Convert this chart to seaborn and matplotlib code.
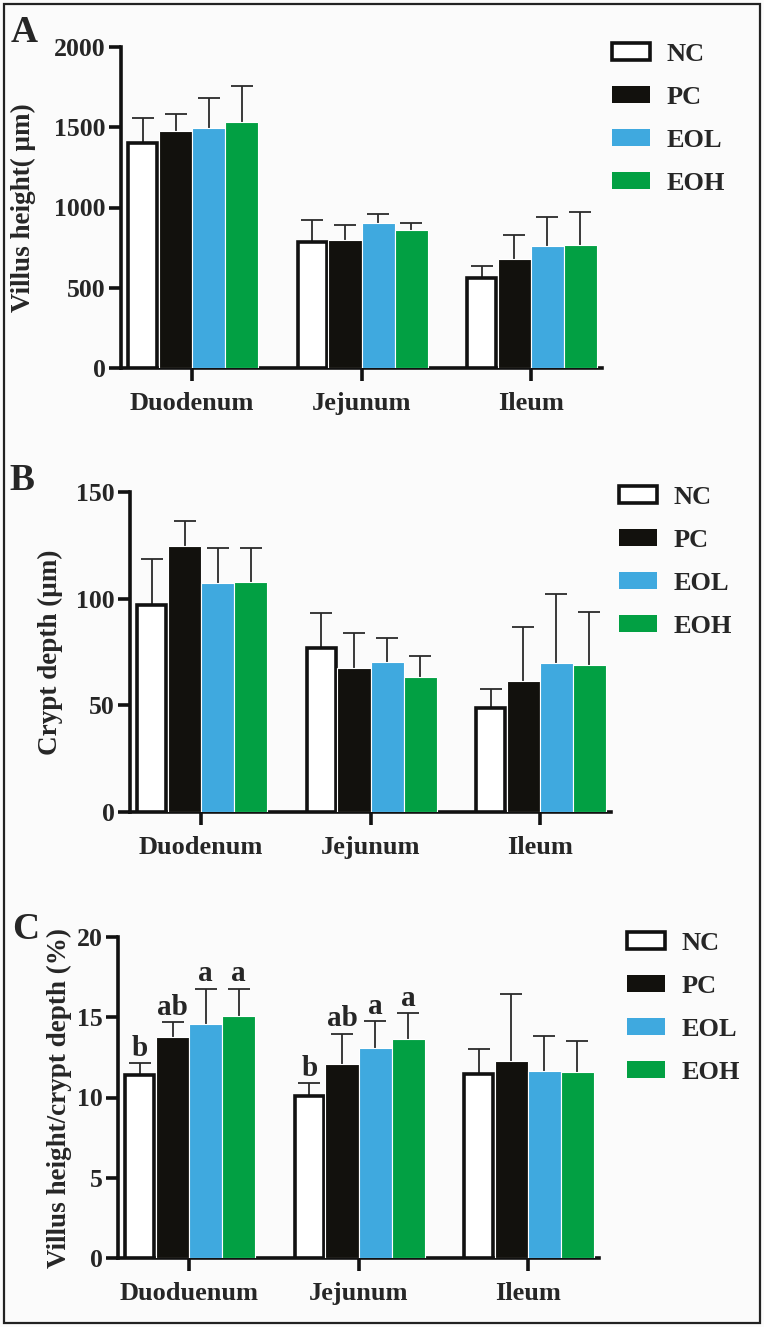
import matplotlib
matplotlib.use("Agg")
import matplotlib.pyplot as plt
from matplotlib.patches import Patch, Rectangle
import seaborn as sns
import pandas as pd
import numpy as np

# ---------------- data ----------------
groups = ["NC", "PC", "EOL", "EOH"]
segments_ab = ["Duodenum", "Jejunum", "Ileum"]
segments_c = ["Duoduenum", "Jejunum", "Ileum"]

# Panel A: villus height (um)  [Duodenum, Jejunum, Ileum]
vh_nc = [1400, 783, 559]
vh_pc = [1475, 796, 681]
vh_eol = [1497, 904, 760]
vh_eoh = [1530, 857, 766]
vh_err_nc = [160, 139, 77]
vh_err_pc = [110, 94, 146]
vh_err_eol = [185, 53, 183]
vh_err_eoh = [225, 45, 206]

# Panel B: crypt depth (um)
cd_nc = [97.2, 76.7, 48.8]
cd_pc = [124.5, 67.3, 61.4]
cd_eol = [107.2, 70.3, 69.8]
cd_eoh = [108.0, 63.3, 68.7]
cd_err_nc = [21.4, 16.4, 9.0]
cd_err_pc = [11.9, 16.4, 25.1]
cd_err_eol = [16.6, 11.1, 32.4]
cd_err_eoh = [15.6, 10.0, 25.2]

# Panel C: villus height / crypt depth
vc_nc = [11.38, 10.12, 11.49]
vc_pc = [13.77, 12.07, 12.26]
vc_eol = [14.56, 13.08, 11.65]
vc_eoh = [15.10, 13.67, 11.61]
vc_err_nc = [0.75, 0.78, 1.56]
vc_err_pc = [0.93, 1.91, 4.17]
vc_err_eol = [2.22, 1.67, 2.18]
vc_err_eoh = [1.68, 1.60, 1.91]
vc_letters_nc = ["b", "b", ""]
vc_letters_pc = ["ab", "ab", ""]
vc_letters_eol = ["a", "a", ""]
vc_letters_eoh = ["a", "a", ""]

colors = {"NC": "#ffffff", "PC": "#12110d", "EOL": "#3fa9df", "EOH": "#02a043"}
FONT = "Liberation Serif"

sns.set_theme(style="ticks")
plt.rcParams["font.family"] = [FONT, "DejaVu Serif"]
plt.rcParams["font.weight"] = "bold"
plt.rcParams["mathtext.default"] = "regular"

W, H = 764, 1327
fig = plt.figure(figsize=(W / 100, H / 100), dpi=100)
fig.patch.set_facecolor("#fbfbfb")
fig.patches.append(Rectangle((4 / W, 4 / H), 756 / W, 1319 / H, transform=fig.transFigure,
                             fill=False, edgecolor="#222222", linewidth=1.6, zorder=10))


def make_df(segs, vals, errs):
    rows = []
    for g, v, e in zip(groups, vals, errs):
        for s, vv, ee in zip(segs, v, e):
            rows.append({"segment": s, "group": g, "value": vv, "err": ee})
    return pd.DataFrame(rows)


def panel(rect, segs, vals, errs, ymax, yticks, ylabel, letter, letter_xy, ylab_x,
          legend_xy, letters=None):
    ax = fig.add_axes(rect)
    ax.set_facecolor("none")
    df = make_df(segs, vals, errs)
    sns.barplot(data=df, x="segment", y="value", hue="group", order=segs, hue_order=groups,
                palette=colors, width=0.78, saturation=1, errorbar=None, ax=ax,
                legend=False, linewidth=0)
    conts = list(ax.containers)
    for gi, cont in enumerate(conts):
        g = groups[gi]
        for si, bar in enumerate(cont):
            bar.set_zorder(3)
            bar.set_edgecolor("white")
            bar.set_linewidth(0.8)
            if g == "NC":
                bar.set_edgecolor("#111111")
                bar.set_linewidth(2.6)
                x0 = bar.get_x(); w = bar.get_width()
                bar.set_x(x0 + w * 0.07)
                bar.set_width(w * 0.88)
            cx = bar.get_x() + bar.get_width() / 2
            h = bar.get_height()
            e = errs[gi][si]
            _, caps, _ = ax.errorbar([cx], [h], yerr=[[0], [e]], fmt="none", ecolor="#2a2a2a",
                                     elinewidth=1.3, capsize=8, capthick=1.3, zorder=2)
            for c in caps:
                if abs(c.get_ydata()[0] - h) < 1e-9:
                    c.set_visible(False)
            if letters is not None and letters[gi][si]:
                ax.annotate(letters[gi][si], (cx, h + e), xytext=(0, 1),
                            textcoords="offset points", ha="center", va="bottom",
                            fontsize=21, fontweight="bold", family=FONT)
    ax.set_ylim(0, ymax)
    ax.set_xlim(-0.42, 2.42)
    ax.set_yticks(yticks)
    ax.set_yticklabels([str(t) for t in yticks], fontsize=18.5, fontweight="bold")
    ax.set_xticks(range(len(segs)))
    ax.set_xticklabels(segs, fontsize=19, fontweight="bold")
    ax.set_xlabel("")
    ax.set_ylabel(ylabel, fontsize=19.5, fontweight="bold")
    ax.yaxis.set_label_coords(ylab_x, 0.5)
    sns.despine(ax=ax)
    for sp in ["left", "bottom"]:
        ax.spines[sp].set_linewidth(2.6)
        ax.spines[sp].set_color("#111111")
    ax.tick_params(axis="both", width=2.6, length=9, color="#111111", pad=2)
    ax.tick_params(axis="x", pad=8)
    fig.text(letter_xy[0] / W, 1 - letter_xy[1] / H, letter, fontsize=27, fontweight="bold",
             ha="left", va="baseline", family=FONT)
    handles = [Patch(facecolor=colors[g], edgecolor=("#111111" if g == "NC" else colors[g]),
                     linewidth=(2.6 if g == "NC" else 0)) for g in groups]
    fig.legend(handles, groups, loc="upper left",
               bbox_to_anchor=(legend_xy[0] / W, 1 - legend_xy[1] / H),
               frameon=False, prop={"family": FONT, "weight": "bold", "size": 19},
               handlelength=1.45, handleheight=0.62, labelspacing=0.76, handletextpad=0.6,
               borderpad=0, borderaxespad=0)
    return ax


def rect_from_px(left, right, top, bottom):
    return [left / W, 1 - bottom / H, (right - left) / W, (bottom - top) / H]


panel(rect_from_px(121, 602, 47, 368), segments_ab,
      [vh_nc, vh_pc, vh_eol, vh_eoh], [vh_err_nc, vh_err_pc, vh_err_eol, vh_err_eoh],
      2000, [0, 500, 1000, 1500, 2000], "Villus height( μm)", "A", (11, 42), -0.177,
      (612, 43))

panel(rect_from_px(130, 611, 492, 812), segments_ab,
      [cd_nc, cd_pc, cd_eol, cd_eoh], [cd_err_nc, cd_err_pc, cd_err_eol, cd_err_eoh],
      150, [0, 50, 100, 150], "Crypt depth (μm)", "B", (9, 490), -0.140,
      (619, 486))

panel(rect_from_px(118, 599, 937, 1258), segments_c,
      [vc_nc, vc_pc, vc_eol, vc_eoh], [vc_err_nc, vc_err_pc, vc_err_eol, vc_err_eoh],
      20, [0, 5, 10, 15, 20], "Villus height/crypt depth (%)", "C", (12, 939), -0.096,
      (627, 932),
      letters=[vc_letters_nc, vc_letters_pc, vc_letters_eol, vc_letters_eoh])

fig.savefig("out.png", dpi=100, facecolor=fig.get_facecolor())
